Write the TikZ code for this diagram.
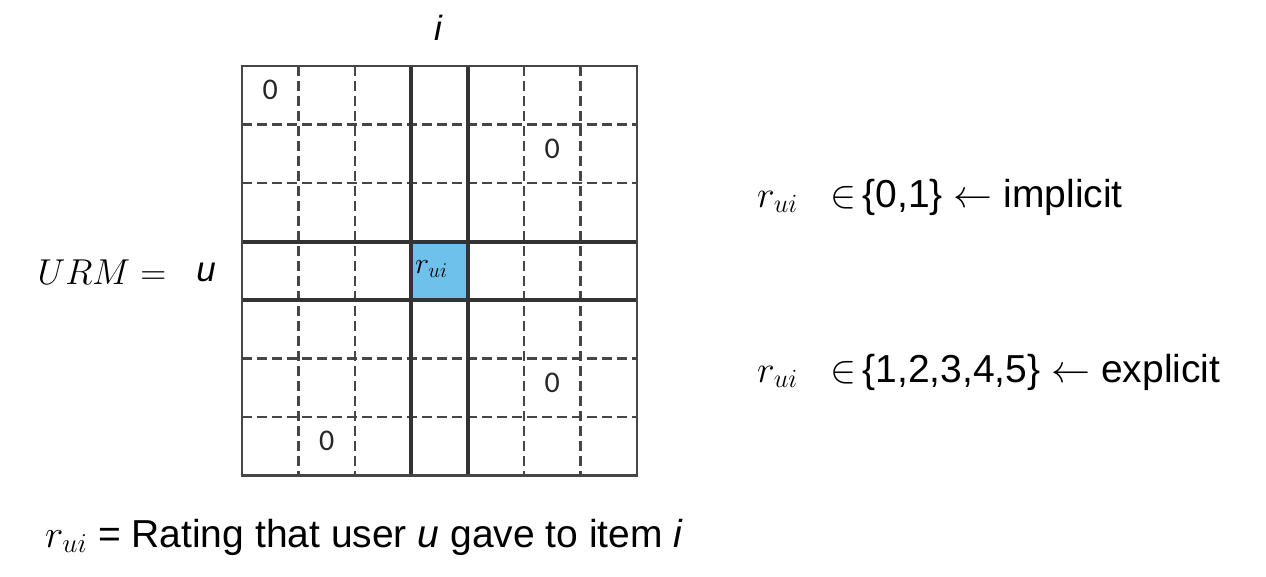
\RequirePackage{fix-cm}
\documentclass[tikz,border=0pt]{standalone}
\usepackage[no-math]{fontspec}
\setmainfont{Liberation Sans}
\newfontfamily\cifra{Carlito}
\usepackage{tikz}
\usetikzlibrary{positioning}
\definecolor{celeste}{RGB}{110,193,235}
\definecolor{grigio}{RGB}{70,70,70}
\newcommand{\rui}{r_{ui}}

\begin{document}
\begin{tikzpicture}[x = 1pt, y = -1pt,
    griglia/.style = {line width = 2.2pt, draw = grigio, dash pattern = on 9.5pt off 5.5pt},
    spessa/.style = {line width = 4pt, draw = black!80},
    bordo/.style = {line width = 2.4pt, draw = grigio},
    testo/.style = {inner sep = 0pt, anchor = base west, font = \fontsize{39}{47}\selectfont},
    zero/.style = {inner sep = 0pt, font = \cifra\fontsize{30}{36}\selectfont, text = black!85}]
    % Parametri
    \pgfmathsetmacro{\xo}{242}
    \pgfmathsetmacro{\yo}{66}
    \pgfmathsetmacro{\cw}{56.4}
    \pgfmathsetmacro{\ch}{58.5}
    \pgfmathsetmacro{\xf}{\xo + 7*\cw}
    \pgfmathsetmacro{\yf}{\yo + 7*\ch}
    \useasboundingbox (0,0) rectangle (1266,576);
    % Cella r_ui
    \fill[celeste] (\xo + 3*\cw, \yo + 3*\ch) rectangle (\xo + 4*\cw, \yo + 4*\ch);
    % Linee tratteggiate
    \foreach \k in {1,2,5,6}{
        \draw[griglia] (\xo + \k*\cw, \yo) -- (\xo + \k*\cw, \yf);
        \draw[griglia] (\xo, \yo + \k*\ch) -- (\xf, \yo + \k*\ch);
    }
    % Riga u e colonna i
    \foreach \k in {3,4}{
        \draw[spessa] (\xo + \k*\cw, \yo) -- (\xo + \k*\cw, \yf);
        \draw[spessa] (\xo, \yo + \k*\ch) -- (\xf, \yo + \k*\ch);
    }
    \draw[bordo] (\xo, \yo) rectangle (\xf, \yf);
    % Zeri
    \foreach \col/\riga [count = \n] in {0/0, 5/1, 5/5, 1/6}
        \node[zero] (zero\n) at (\xo + \col*\cw + 0.5*\cw, \yo + \riga*\ch + 0.5*\ch - 5) {0};
    \node[inner sep = 0pt, anchor = base west, font = \fontsize{30}{36}\selectfont] (rcella) at (415,273) {$\rui$};
    % Etichette
    \node[inner sep = 0pt, font = \fontsize{35}{42}\selectfont\itshape] (item) at (438,28) {i};
    \node[inner sep = 0pt, font = \fontsize{35}{42}\selectfont\itshape] (user) at (206,272) {u};
    \node[inner sep = 0pt, font = \fontsize{36}{43}\selectfont] (urm) at (102,272) {$URM =$};
    % Implicito / esplicito
    \node[testo, font = \fontsize{37.5}{45}\selectfont] (rimpl) at (757,207) {$\rui$};
    \node[testo] (impl) at (830,207) {$\in$\,\{0,1\} $\leftarrow$ implicit};
    \node[testo, font = \fontsize{37.5}{45}\selectfont] (rexpl) at (757,382) {$\rui$};
    \node[testo] (expl) at (830,382) {$\in$\,\{1,2,3,4,5\} $\leftarrow$ explicit};
    % Legenda
    \node[testo] (legenda) at (45,547) {$\rui$ = Rating that user \textit{u} gave to item \textit{i}};
\end{tikzpicture}
\end{document}
